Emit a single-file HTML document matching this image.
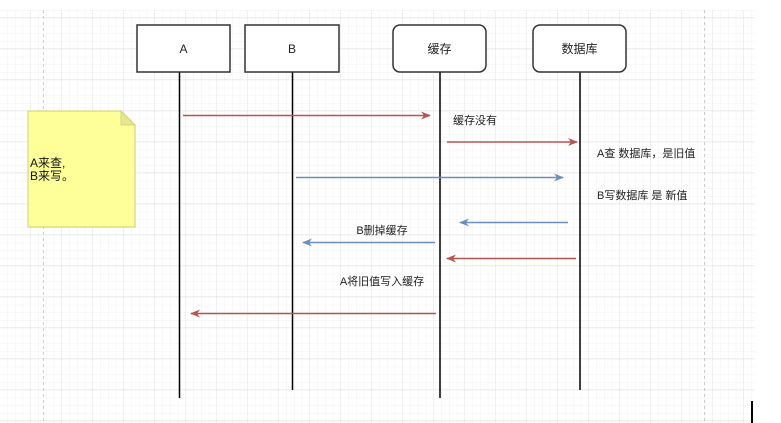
<!DOCTYPE html>
<html><head><meta charset="utf-8"><style>
body{margin:0;background:#fff;}
svg{display:block;font-family:"Liberation Sans","Noto Sans CJK SC",sans-serif;}
</style></head><body>
<svg width="781" height="423" viewBox="0 0 781 423">
<defs>
<pattern id="minor" width="7.75" height="7.75" patternUnits="userSpaceOnUse" x="0" y="3">
<path d="M7.75 0V7.75M0 7.75H7.75" stroke="#f0f0f0" stroke-width="1" fill="none"/>
</pattern>
<pattern id="major" width="31" height="31" patternUnits="userSpaceOnUse" x="0" y="18">
<path d="M31 0V31M0 31H31" stroke="#e0e0e0" stroke-width="1" fill="none"/>
</pattern>
<marker id="ar" markerWidth="10" markerHeight="8" refX="9" refY="4" orient="auto" markerUnits="userSpaceOnUse"><path d="M0,0 L10,4 L0,8 L3,4Z" fill="#b85450"/></marker>
<marker id="ab" markerWidth="10" markerHeight="8" refX="9" refY="4" orient="auto" markerUnits="userSpaceOnUse"><path d="M0,0 L10,4 L0,8 L3,4Z" fill="#6c8ebf"/></marker>
</defs>
<rect x="0" y="10" width="755" height="413" fill="url(#minor)"/>
<rect x="0" y="10" width="755" height="413" fill="url(#major)"/>
<line x1="43.5" y1="10" x2="43.5" y2="423" stroke="#ccc" stroke-dasharray="3,3"/>
<line x1="704.5" y1="10" x2="704.5" y2="423" stroke="#ccc" stroke-dasharray="3,3"/>
<rect x="751" y="401" width="2" height="22" fill="#000"/>

<g stroke="#000" stroke-width="1.5">
<line x1="179.5" y1="72" x2="179.5" y2="398"/>
<line x1="292.5" y1="68" x2="292.5" y2="390"/>
<line x1="440" y1="72" x2="440" y2="398"/>
<line x1="580" y1="72" x2="580" y2="390"/>
</g>
<g stroke="#333" stroke-width="1.5" fill="#fff">
<rect x="137" y="25" width="93" height="47"/>
<rect x="245" y="25" width="94" height="47"/>
<rect x="393" y="25" width="93" height="47" rx="7"/>
<rect x="533" y="25" width="93" height="47" rx="7"/>
</g>
<g font-size="12" fill="#222" text-anchor="middle">
<text x="183.5" y="53">A</text>
<text x="292" y="53">B</text>
<text x="439.5" y="53">缓存</text>
<text x="579.5" y="53">数据库</text>
</g>

<path d="M28 111H121L135 125V227H28Z" fill="#ffff99" stroke="#d6d680" stroke-width="1.2"/>
<path d="M121 111V125H135Z" fill="#e6e68a" stroke="#d6d680" stroke-width="1"/>
<g font-size="12" fill="#111">
<text x="30" y="167">A来查,</text>
<text x="30" y="180">B来写。</text>
</g>

<g stroke-width="1.6" fill="none">
<line x1="183" y1="115.5" x2="430" y2="115.5" stroke="#b85450" marker-end="url(#ar)"/>
<line x1="447" y1="142" x2="577" y2="142" stroke="#b85450" marker-end="url(#ar)"/>
<line x1="296" y1="177.5" x2="563" y2="177.5" stroke="#6c8ebf" marker-end="url(#ab)"/>
<line x1="568" y1="222.5" x2="460" y2="222.5" stroke="#6c8ebf" marker-end="url(#ab)"/>
<line x1="435" y1="242.5" x2="303" y2="242.5" stroke="#6c8ebf" marker-end="url(#ab)"/>
<line x1="576" y1="258.5" x2="447" y2="258.5" stroke="#b85450" marker-end="url(#ar)"/>
<line x1="436" y1="313.5" x2="191" y2="313.5" stroke="#b85450" marker-end="url(#ar)"/>
</g>
<g font-size="11" fill="#222">
<text x="453" y="124">缓存没有</text>
<text x="597" y="157">A查 数据库，是旧值</text>
<text x="597" y="199">B写数据库 是 新值</text>
<text x="382" y="234" text-anchor="middle">B删掉缓存</text>
<text x="382" y="285" text-anchor="middle">A将旧值写入缓存</text>
</g>
</svg>
</body></html>
